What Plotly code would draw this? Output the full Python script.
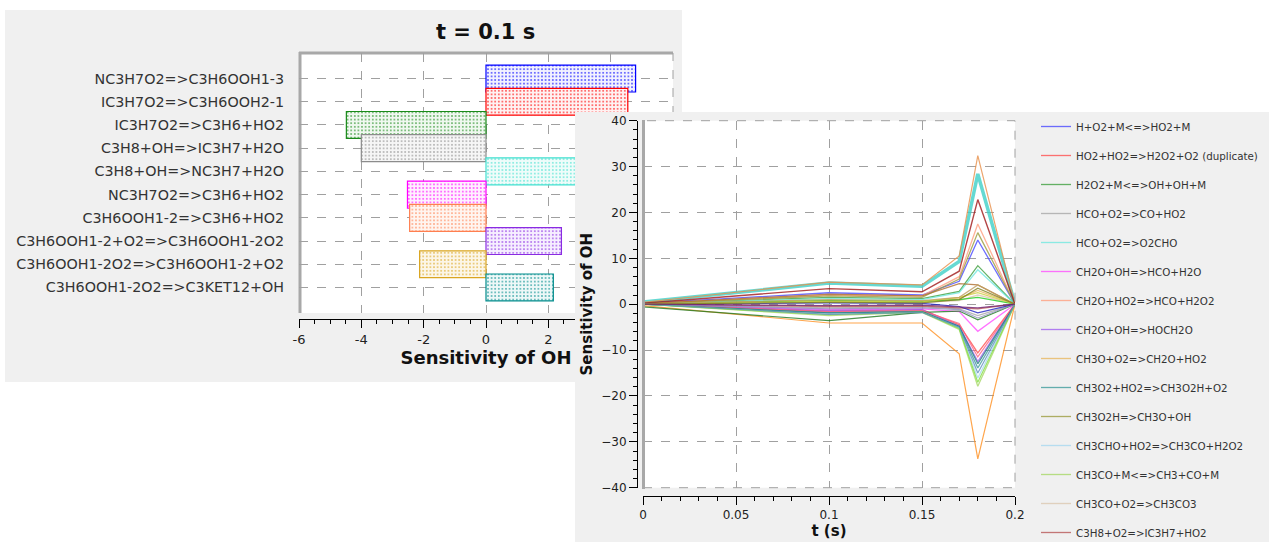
import plotly.graph_objects as go

W, H = 1269, 542

# ---------------- left chart: sensitivity of OH at t = 0.1 s ----------------
reactions = ["NC3H7O2=>C3H6OOH1-3", "IC3H7O2=>C3H6OOH2-1", "IC3H7O2=>C3H6+HO2",
             "C3H8+OH=>IC3H7+H2O", "C3H8+OH=>NC3H7+H2O", "NC3H7O2=>C3H6+HO2",
             "C3H6OOH1-2=>C3H6+HO2", "C3H6OOH1-2+O2=>C3H6OOH1-2O2",
             "C3H6OOH1-2O2=>C3H6OOH1-2+O2", "C3H6OOH1-2O2=>C3KET12+OH"]
sens_t01 = [4.8, 4.55, -4.48, -4.0, 4.2, -2.52, -2.45, 2.42, -2.13, 2.16]
bar_colors = ["#0000ff", "#ff0000", "#1a8a1a", "#8c8c8c", "#40e0d0",
              "#ff00ff", "#ff7f50", "#8a2be2", "#daa520", "#008b8b"]
bar_tints = ["#f2f2ff", "#fff2f2", "#f0f8f0", "#f6f6f6", "#effcfa", "#fff0ff",
             "#fff5f0", "#f6efff", "#fcf6e8", "#eef8f8"]
x_tick_vals = [-6, -4, -2, 0, 2, 4, 6]
x_tick_text = ["-6", "-4", "-2", "0", "2", "", ""]   # 4 and 6 are hidden behind the inset

# ---------------- right chart: sensitivity of OH vs time ----------------
t_s = [0, 0.1, 0.15, 0.17, 0.18, 0.2]
s01 = [0.2, 2.5, 2.0, 5.0, 14.0, 0]      # H+O2+M<=>HO2+M
s02 = [0.0, -1.5, -1.2, -4.5, -10.6, 0]  # HO2+HO2=>H2O2+O2 (duplicate)
s03 = [0.1, 1.5, 1.2, 2.8, 8.4, 0]       # H2O2+M<=>OH+OH+M
s04 = [0.0, -0.8, -0.6, -1.0, -2.5, 0]   # HCO+O2=>CO+HO2
s05 = [0.1, 1.2, 1.0, 2.5, 7.5, 0]       # HCO+O2=>O2CHO
s06 = [0.0, -1.2, -1.0, -1.6, -5.9, 0]   # CH2O+OH=>HCO+H2O
s07 = [0.1, 2.0, 1.8, 6.0, 17.5, 0]      # CH2O+HO2=>HCO+H2O2
s08 = [0.0, -1.4, -1.2, -4.8, -12.5, 0]  # CH2O+OH=>HOCH2O
s09 = [0.0, 0.8, 0.6, 1.2, 3.0, 0]       # CH3O+O2=>CH2O+HO2
s10 = [0.0, -1.8, -1.5, -5.0, -13.9, 0]  # CH3O2+HO2=>CH3O2H+O2
s11 = [0.1, 1.8, 1.5, 5.5, 15.6, 0]      # CH3O2H=>CH3O+OH
s12 = [0.0, -2.0, -1.6, -5.2, -16.1, 0]  # CH3CHO+HO2=>CH3CO+H2O2
s13 = [0.0, -2.5, -1.8, -5.5, -17.9, 0]  # CH3CO+M<=>CH3+CO+M
s14 = [0.0, 0.5, 0.4, 0.8, 2.0, 0]       # CH3CO+O2=>CH3CO3
s15 = [0.0, -0.5, -0.4, -0.8, -1.0, 0]   # C3H8+O2=>IC3H7+HO2
s16 = [0.5, 4.6, 3.9, 9.3, 28.4, 0]      # C3H8+OH=>NC3H7+H2O
s17 = [0.4, 4.8, 4.2, 10.5, 32.4, 0]     # NC3H7O2=>C3H6OOH1-3
s18 = [0.2, 3.4, 2.7, 7.2, 22.8, 0]      # IC3H7O2=>C3H6OOH2-1
s19 = [-0.3, -4.1, -4.1, -10.8, -33.7, 0]  # IC3H7O2=>C3H6+HO2
s20 = [-0.6, -3.6, -1.8, -1.5, -3.4, 0]  # C3H8+OH=>IC3H7+H2O
s21 = [0.1, 0.8, 0.6, 1.0, 1.5, 0]       # NC3H7O2=>C3H6+HO2
s22 = [0.0, 0.3, 0.2, -0.5, -1.9, 0]     # C3H6OOH1-2=>C3H6+HO2
s23 = [0.0, -1.6, -1.4, -4.2, -11.5, 0]  # C3H6OOH1-2+O2=>C3H6OOH1-2O2
s24 = [0.0, -1.9, -1.6, -4.8, -13.0, 0]  # C3H6OOH1-2O2=>C3H6OOH1-2+O2
s25 = [0.1, 2.2, 1.8, 4.5, 4.2, 0]       # C3H6OOH1-2O2=>C3KET12+OH
s26 = [0.0, 0.6, 0.5, 1.5, 2.5, 0]       # CH3+HO2=>CH3O+OH
s27 = [0.0, -1.0, -0.8, -1.2, -3.0, 0]   # CH3+HO2=>CH4+O2
s28 = [0.0, -2.3, -1.7, -5.3, -17.0, 0]  # CH3O2+CH3=>CH3O+CH3O
s29 = [0.0, -2.2, -1.8, -5.0, -15.0, 0]  # C2H5+O2=>C2H4+HO2
s30 = [0.1, 1.0, 0.8, 1.5, 4.2, 0]       # C3H6+OH=>C3H5-A+H2O
s31 = [0.0, 0.4, 0.3, 1.0, 3.5, 0]       # C3KET12=>CH3CHO+HCO+OH
s32 = [0.0, -0.3, -0.2, -0.5, -0.8, 0]   # NC3H7+O2=>NC3H7O2

series_names = ["H+O2+M<=>HO2+M", "HO2+HO2=>H2O2+O2 (duplicate)", "H2O2+M<=>OH+OH+M",
                "HCO+O2=>CO+HO2", "HCO+O2=>O2CHO", "CH2O+OH=>HCO+H2O",
                "CH2O+HO2=>HCO+H2O2", "CH2O+OH=>HOCH2O", "CH3O+O2=>CH2O+HO2",
                "CH3O2+HO2=>CH3O2H+O2", "CH3O2H=>CH3O+OH", "CH3CHO+HO2=>CH3CO+H2O2",
                "CH3CO+M<=>CH3+CO+M", "CH3CO+O2=>CH3CO3", "C3H8+O2=>IC3H7+HO2",
                "C3H8+OH=>NC3H7+H2O", "NC3H7O2=>C3H6OOH1-3", "IC3H7O2=>C3H6OOH2-1",
                "IC3H7O2=>C3H6+HO2", "C3H8+OH=>IC3H7+H2O", "NC3H7O2=>C3H6+HO2",
                "C3H6OOH1-2=>C3H6+HO2", "C3H6OOH1-2+O2=>C3H6OOH1-2O2",
                "C3H6OOH1-2O2=>C3H6OOH1-2+O2", "C3H6OOH1-2O2=>C3KET12+OH",
                "CH3+HO2=>CH3O+OH", "CH3+HO2=>CH4+O2", "CH3O2+CH3=>CH3O+CH3O",
                "C2H5+O2=>C2H4+HO2", "C3H6+OH=>C3H5-A+H2O", "C3KET12=>CH3CHO+HCO+OH",
                "NC3H7+O2=>NC3H7O2"]
series_values = [s01, s02, s03, s04, s05, s06, s07, s08, s09, s10, s11, s12, s13, s14, s15, s16,
                 s17, s18, s19, s20, s21, s22, s23, s24, s25, s26, s27, s28, s29, s30, s31, s32]
line_colors = ["#4a4aff", "#ff5050", "#40a040", "#a8a8a8", "#70e8e0", "#ff50ff",
               "#ffa080", "#a060f0", "#e8b860", "#409c9c", "#9c9c40", "#a8d8f0",
               "#a8d868", "#dcc8b0", "#b85858", "#40d0c8", "#e8904a", "#a01818",
               "#ff9020", "#207a20", "#20d020", "#2020c0", "#ff6080", "#208080",
               "#b07030", "#d0d040", "#9090c0", "#80e040", "#6090c0", "#c0a060",
               "#808020", "#702070"]
line_widths = [1.3] * 15 + [3.5, 1.2, 1.4] + [1.2] * 14
n_legend = 15


def fx(px):
    return px / W


def fy(py):
    return 1 - py / H


FONT = "DejaVu Sans"
GRID = "#a0a0a0"

fig = go.Figure()

# left chart bars (one trace per reaction so each gets its own dotted fill)
for name, val, col, tint in zip(reactions, sens_t01, bar_colors, bar_tints):
    fig.add_trace(go.Bar(
        x=[val], y=[name], orientation="h", width=1.16,
        marker=dict(color=tint, line=dict(color=col, width=1.2),
                    pattern=dict(shape=".", size=3.6, solidity=0.16, fgcolor=col,
                                 fgopacity=0.8, fillmode="overlay")),
        showlegend=False, hoverinfo="x+y", xaxis="x", yaxis="y"))

# right panel background holder (inset subplot)
fig.add_trace(go.Scatter(x=[None], y=[None], xaxis="x2", yaxis="y2",
                         showlegend=False, hoverinfo="skip"))

# right chart lines
for i, (name, vals) in enumerate(zip(series_names, series_values)):
    fig.add_trace(go.Scatter(
        x=t_s, y=vals, mode="lines", name=name, legendgroup=name,
        line=dict(color=line_colors[i], width=line_widths[i]), opacity=0.8,
        showlegend=i < n_legend, xaxis="x3", yaxis="y3"))

shapes = [
    # left panel
    dict(type="rect", xref="paper", yref="paper", x0=fx(5), x1=fx(682), y0=fy(382), y1=fy(10),
         fillcolor="#f0f0f0", line=dict(width=0), layer="below"),
    dict(type="rect", xref="paper", yref="paper", x0=fx(299), x1=fx(673), y0=fy(313), y1=fy(53),
         fillcolor="white", line=dict(width=0), layer="below"),
    dict(type="line", xref="paper", yref="paper", x0=fx(300), x1=fx(300), y0=fy(313), y1=fy(52),
         line=dict(color="#a8a8a8", width=3), layer="below"),
    dict(type="line", xref="paper", yref="paper", x0=fx(299), x1=fx(673), y0=fy(53), y1=fy(53),
         line=dict(color="#a8a8a8", width=3), layer="below"),
    dict(type="line", xref="paper", yref="paper", x0=fx(673), x1=fx(673), y0=fy(313), y1=fy(53),
         line=dict(color=GRID, width=1, dash="dash"), layer="below"),
    # right panel background (inside inset subplot so it covers the left chart)
    dict(type="rect", xref="x2", yref="y2", x0=0, x1=1, y0=0, y1=1,
         fillcolor="#f0f0f0", line=dict(width=0), layer="below"),
    # right plot frame
    dict(type="rect", xref="paper", yref="paper", x0=fx(643), x1=fx(1015), y0=fy(487.7), y1=fy(120.7),
         line=dict(color=GRID, width=1, dash="dash"), layer="above"),
    dict(type="line", xref="paper", yref="paper", x0=fx(643.5), x1=fx(643.5), y0=fy(489), y1=fy(120),
         line=dict(color="#a8a8a8", width=3), layer="above"),
]

tick_font = dict(family=FONT, size=12, color="#222")

fig.update_layout(
    width=W, height=H, margin=dict(l=0, r=0, t=0, b=0, pad=0, autoexpand=False),
    paper_bgcolor="white", plot_bgcolor="white",
    barmode="overlay", font=dict(family=FONT, color="#222"),
    shapes=shapes,
    annotations=[dict(text="<b>t = 0.1 s</b>", xref="paper", yref="paper",
                      x=fx(485), y=fy(32), xanchor="center", yanchor="middle", showarrow=False,
                      font=dict(family=FONT, size=21, color="#111"))],
    xaxis=dict(domain=[fx(299), fx(673)], anchor="free", position=fy(319), automargin=False,
               range=[-6, 6], tickmode="array", tickvals=x_tick_vals, ticktext=x_tick_text,
               ticks="outside", ticklen=8,
               tickcolor="#000", showline=True, linecolor="#000", linewidth=1,
               minor=dict(dtick=0.5, tick0=0, ticks="outside", ticklen=4, tickcolor="#000", showgrid=False),
               showgrid=True, gridcolor=GRID, griddash="dash", gridwidth=1, zeroline=False,
               tickfont=dict(family=FONT, size=13, color="#222"),
               title=dict(text="<b>Sensitivity of OH</b>", standoff=4,
                          font=dict(family=FONT, size=18, color="#111"))),
    yaxis=dict(domain=[fy(313), fy(53)], anchor="x", type="category", automargin=False,
               categoryorder="array", categoryarray=reactions, range=[10.1, -1.1],
               showgrid=True, gridcolor=GRID, griddash="dash", gridwidth=1,
               ticks="", ticklabelstandoff=14, zeroline=False, showline=False,
               tickfont=dict(family=FONT, size=14.3, color="#333")),
    xaxis2=dict(domain=[fx(575), 1], anchor="y2", range=[0, 1], visible=False,
                fixedrange=True, automargin=False),
    yaxis2=dict(domain=[0, fy(112)], anchor="x2", range=[0, 1], visible=False,
                fixedrange=True, automargin=False),
    xaxis3=dict(domain=[fx(643), fx(1015)], anchor="free", position=fy(496), automargin=False,
                range=[0, 0.2], tick0=0, dtick=0.05, ticks="outside", ticklen=8,
                tickcolor="#000", showline=True, linecolor="#000", linewidth=1,
                minor=dict(dtick=0.01, ticks="outside", ticklen=4, tickcolor="#000", showgrid=False),
                showgrid=True, gridcolor=GRID, griddash="dash", zeroline=False,
                tickfont=tick_font,
                title=dict(text="<b>t (s)</b>", standoff=2,
                           font=dict(family=FONT, size=15, color="#111"))),
    yaxis3=dict(domain=[fy(487.7), fy(120.7)], anchor="free", position=fx(637), automargin=False,
                range=[-40, 40], tick0=0, dtick=10, ticks="outside", ticklen=8,
                tickcolor="#000", showline=True, linecolor="#000", linewidth=1,
                minor=dict(dtick=2, ticks="outside", ticklen=4, tickcolor="#000", showgrid=False),
                showgrid=True, gridcolor=GRID, griddash="dash", zeroline=False,
                tickfont=tick_font,
                title=dict(text="<b>Sensitivity of OH</b>", standoff=4,
                           font=dict(family=FONT, size=15, color="#111"))),
    legend=dict(x=fx(1036), xanchor="left", y=fy(112), yanchor="top",
                bgcolor="rgba(0,0,0,0)", borderwidth=0, tracegroupgap=10,
                font=dict(family=FONT, size=10.3, color="#333"), itemwidth=30),
)

# the page's default 8px body margin would shift the figure; remove it
fig.write_html("out.html", config={"displayModeBar": False},
               post_script="document.body.style.margin='0px';")
